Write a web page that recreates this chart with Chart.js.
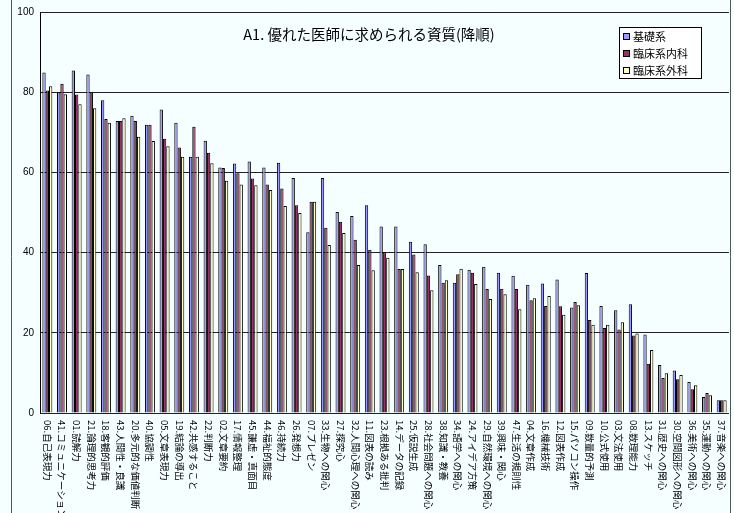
<!DOCTYPE html>
<html>
<head>
<meta charset="utf-8">
<script src="https://cdn.jsdelivr.net/npm/chart.js@4.4.0/dist/chart.umd.min.js"></script>
<style>
  html, body { margin: 0; padding: 0; background: #f5ffff; }
  #wrap { width: 734px; height: 513px; }
</style>
</head>
<body>
<div id="wrap"><canvas id="chart" width="734" height="513"></canvas></div>
<script>
// A1. 優れた医師に求められる資質 (sorted desc)

const categories = [
  '06.自己表現力', '41.コミュニケーション', '01.読解力', '21.論理的思考力', '18.客観的評価',
  '43.人間性・良識', '20.多元的な価値判断', '40.協調性', '05.文章表現力', '19.結論の導出',
  '42.共感すること', '22.判断力', '02.文章要約', '17.情報整理', '45.謙虚・真面目',
  '44.福祉的態度', '46.持続力', '26.発想力', '07.プレゼン', '33.生物への関心',
  '27.探究心', '32.人間心理への関心', '11.図表の読み', '23.根拠ある批判', '14.データの記録',
  '25.仮説生成', '28.社会問題への関心', '38.知識・教養', '34.語学への関心', '24.アイデア方策',
  '29.自然環境への関心', '39.興味・関心', '47.生活の規則性', '04.文章作成', '16.機械技術',
  '12.図表作成', '15.パソコン操作', '09.数量的予測', '10.公式使用', '03.文法使用',
  '08.数理能力', '13.スケッチ', '31.歴史への関心', '30.空間図形への関心', '36.美術への関心',
  '35.運動への関心', '37.音楽への関心'
];

const basic = [
  84.9, 80.0, 85.4, 84.4, 78.0, 72.8, 74.1, 71.9, 75.7, 72.4,
  63.9, 67.9, 61.2, 62.2, 62.7, 61.2, 62.4, 58.6, 45.1, 58.6,
  50.1, 49.1, 51.8, 46.5, 46.5, 42.7, 42.1, 36.9, 32.5, 35.7,
  36.5, 35.0, 34.2, 32.0, 32.3, 33.3, 26.3, 34.9, 26.7, 25.6,
  27.1, 19.6, 12.0, 10.6, 7.7, 4.0, 3.2
];

const internal = [
  80.4, 82.1, 79.4, 80.0, 73.3, 72.8, 72.8, 71.9, 68.4, 66.2,
  71.4, 64.9, 61.1, 59.8, 58.5, 57.0, 56.0, 51.8, 52.7, 46.2,
  47.7, 43.2, 40.7, 40.1, 35.9, 39.5, 34.3, 32.5, 34.6, 35.0,
  30.9, 31.0, 30.9, 28.1, 26.7, 26.6, 27.7, 23.2, 21.2, 20.8,
  19.3, 12.3, 8.7, 8.4, 5.9, 5.0, 3.2
];

const surgical = [
  81.5, 79.5, 77.0, 76.0, 72.4, 73.5, 68.9, 67.8, 66.5, 63.9,
  63.9, 62.3, 57.9, 57.0, 56.8, 55.6, 51.6, 49.9, 52.7, 41.9,
  44.9, 36.9, 35.6, 38.7, 35.9, 35.1, 30.6, 33.1, 36.0, 32.2,
  28.4, 29.6, 25.9, 28.6, 29.2, 24.5, 26.9, 22.0, 22.0, 22.6,
  19.8, 15.7, 9.9, 9.5, 6.9, 4.4, 3.2
];

const seriesNames = ['基礎系', '臨床系内科', '臨床系外科'];
const seriesColors = ['#9999ff', '#993366', '#ffffcc'];
const yTicks = [0, 20, 40, 60, 80, 100];

const chartTitle = 'A1. 優れた医師に求められる資質(降順)';
const jpFont = '"Noto Sans CJK JP", "Noto Sans", sans-serif';
const numFont = '"Liberation Sans", Arial, sans-serif';

// background + frame
const backgroundPlugin = {
  id: 'bg',
  beforeDraw(chart) {
    const c = chart.ctx;
    c.save();
    c.fillStyle = '#f5ffff';
    c.fillRect(0, 0, chart.width, chart.height);
    c.strokeStyle = '#555';
    c.lineWidth = 1;
    c.beginPath();
    c.moveTo(11.5, 0);
    c.lineTo(11.5, chart.height);
    c.moveTo(730.5, 0);
    c.lineTo(730.5, chart.height);
    c.stroke();
    c.restore();
  }
};

// category labels rotated clockwise, reading downward
const xLabelPlugin = {
  id: 'xLabels',
  afterDraw(chart) {
    const c = chart.ctx;
    const xs = chart.scales.x;
    const top = chart.chartArea.bottom + 7;
    c.save();
    c.fillStyle = '#000';
    c.font = '9.5px ' + jpFont;
    c.textAlign = 'left';
    c.textBaseline = 'middle';
    xs.ticks.forEach((t, i) => {
      const x = xs.getPixelForTick(i);
      c.save();
      c.translate(x, top);
      c.rotate(Math.PI / 2);
      c.fillText(categories[i], 0, 0);
      c.restore();
    });
    c.restore();
  }
};

// title and legend box drawn inside the plot
const overlayPlugin = {
  id: 'overlay',
  afterDraw(chart) {
    const c = chart.ctx;
    c.save();
    c.fillStyle = '#000';
    c.font = '14.5px ' + jpFont;
    c.textAlign = 'center';
    c.textBaseline = 'middle';
    c.fillText(chartTitle, 369, 34);

    const bx = 619, by = 27, bw = 82, bh = 51;
    c.fillStyle = '#ffffff';
    c.fillRect(bx, by, bw, bh);
    c.strokeStyle = '#000';
    c.lineWidth = 1;
    c.strokeRect(bx + 0.5, by + 0.5, bw, bh);

    c.font = '11px ' + jpFont;
    c.textAlign = 'left';
    chart.data.datasets.forEach((ds, i) => {
      const yy = by + 9 + i * 17;
      c.fillStyle = ds.backgroundColor;
      c.fillRect(bx + 4, yy - 3, 7, 7);
      c.strokeStyle = '#000';
      c.strokeRect(bx + 4.5, yy - 2.5, 6, 6);
      c.fillStyle = '#000';
      c.fillText(ds.label, bx + 14, yy + 1);
    });
    c.restore();
  }
};

const datasets = [basic, internal, surgical].map((vals, i) => ({
  label: seriesNames[i],
  data: vals,
  backgroundColor: seriesColors[i],
  borderColor: '#000000',
  borderWidth: 1,
  categoryPercentage: 0.68,
  barPercentage: 1.0
}));

new Chart(document.getElementById('chart'), {
  type: 'bar',
  data: { labels: categories, datasets: datasets },
  plugins: [backgroundPlugin, xLabelPlugin, overlayPlugin],
  options: {
    responsive: false,
    animation: false,
    layout: { padding: { left: 0, top: 10, right: 5, bottom: 0 } },
    plugins: {
      legend: { display: false },
      title: { display: false },
      tooltip: { enabled: false }
    },
    scales: {
      x: {
        ticks: { display: false },
        grid: { display: false },
        border: { display: false },
        afterFit(scale) { scale.height = 100; }
      },
      y: {
        min: 0,
        max: 100,
        afterBuildTicks(scale) { scale.ticks = yTicks.map(v => ({ value: v })); },
        afterFit(scale) { scale.width = 40; },
        ticks: {
          color: '#000',
          padding: 6,
          font: { family: numFont, size: 10 }
        },
        grid: { color: '#222', lineWidth: 1, drawTicks: false },
        border: { display: true, color: '#000', width: 1 }
      }
    }
  }
});
</script>
</body>
</html>
